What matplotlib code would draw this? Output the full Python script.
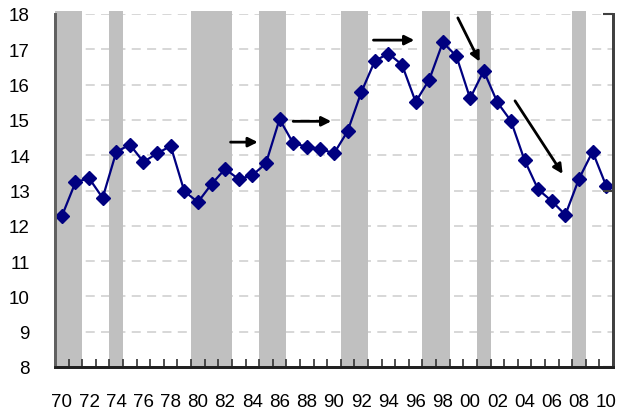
import matplotlib
matplotlib.use("Agg")
import matplotlib.pyplot as plt
from matplotlib.ticker import FixedLocator

plt.rcParams['font.family'] = ['Liberation Sans', 'DejaVu Sans']

# Data
years = list(range(1970, 2011))
values = [12.27, 13.23, 13.35, 12.79, 14.09, 14.30, 13.81, 14.05, 14.26, 12.98,
          12.67, 13.18, 13.61, 13.32, 13.43, 13.77, 15.02, 14.34, 14.24, 14.18,
          14.05, 14.68, 15.78, 16.67, 16.88, 16.56, 15.51, 16.14, 17.20, 16.80,
          15.61, 16.39, 15.50, 14.97, 13.86, 13.03, 12.70, 12.31, 13.33, 14.10,
          13.13]
shaded_years = [1970, 1971, 1974, 1980, 1981, 1982, 1985, 1986,
                1991, 1992, 1997, 1998, 2001, 2008]
tick_labels = [f"{y % 100:02d}" for y in years[::2]]

# arrows: (x_start, y_start, x_end, y_end) in data units
arrows = [
    (1982.4, 14.37, 1984.4, 14.37),
    (1987.0, 14.96, 1989.8, 14.96),
    (1992.9, 17.26, 1995.9, 17.26),
    (1999.1, 17.89, 2000.7, 16.65),
    (2003.3, 15.54, 2006.8, 13.47),
]

fig = plt.figure(figsize=(6.19, 4.10), dpi=100)
ax = fig.add_axes([55 / 619, 42 / 410, 558 / 619, 353 / 410])

# gridlines (below the bands)
for v in range(9, 19):
    ax.axhline(v, color='#d4d4d4', lw=1.3, dashes=(5, 3.5), zorder=0.5)

# shaded bands
ax.bar(shaded_years, [10.09] * len(shaded_years), bottom=8, width=1.0,
       color='#c0c0c0', zorder=1, clip_on=False)

ax.plot(years, values, color='#000080', lw=1.6, marker='D', markersize=7.5,
        zorder=3)

for x0, y0, x1, y1 in arrows:
    ax.annotate('', xy=(x1, y1), xytext=(x0, y0),
                arrowprops=dict(arrowstyle='-|>', color='black', lw=2,
                                mutation_scale=14, shrinkA=0, shrinkB=0),
                zorder=4)

ax.set_xlim(1969.5, 2010.5)
ax.set_ylim(8, 18)

ax.set_xticks(years[::2])
ax.set_xticklabels(tick_labels, fontsize=13.5)
ax.xaxis.set_minor_locator(FixedLocator([y - 0.5 for y in years] + [2010.5]))
ax.tick_params(axis='x', which='major', length=0, pad=19)
ax.tick_params(axis='x', which='minor', direction='in', length=6, width=1.2,
               color='#303030')

ax.set_yticks(range(8, 19))
ax.tick_params(axis='y', which='major', length=0, pad=18, labelsize=13.5)
ax.yaxis.set_minor_locator(FixedLocator([18]))
ax.tick_params(axis='y', which='minor', direction='in', length=7, width=1.5,
               color='#404040')

# secondary axis: only its right spine and ticks are visible
ax2 = ax.twinx()
ax2.set_ylim(0, 1)
ax2.yaxis.set_major_locator(FixedLocator([0, 0.5, 1]))
ax2.tick_params(axis='y', direction='in', length=7, width=1.5, color='#404040',
                labelright=False)

for a in (ax, ax2):
    a.spines['top'].set_visible(False)
    a.spines['left'].set_color('#606060')
    a.spines['left'].set_linewidth(2)
    a.spines['bottom'].set_color('#202020')
    a.spines['bottom'].set_linewidth(2)
    a.spines['right'].set_color('#404040')
    a.spines['right'].set_linewidth(2)

fig.savefig('out.png', dpi=100)
